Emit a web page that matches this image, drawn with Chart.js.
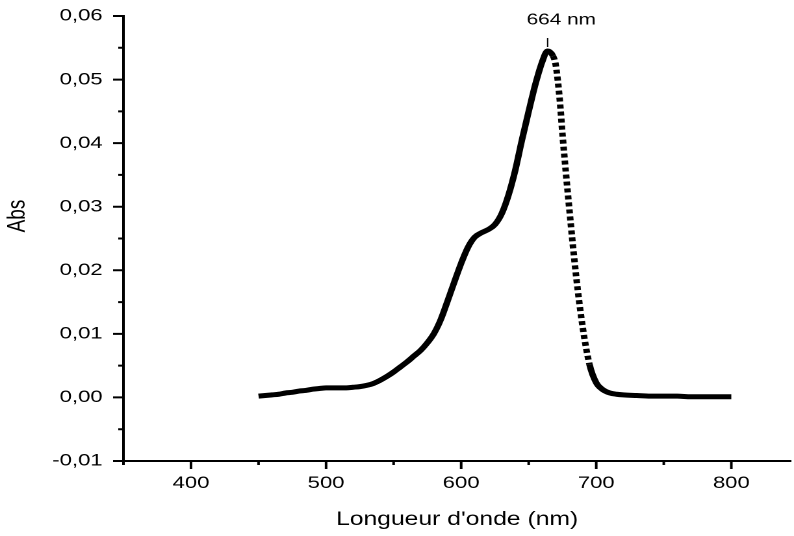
<!DOCTYPE html>
<html>
<head>
<meta charset="utf-8">
<script src="https://cdn.jsdelivr.net/npm/chart.js@4.4.1/dist/chart.umd.min.js"></script>
<style>
  html, body { margin: 0; padding: 0; background: #fff; overflow: hidden; }
  #wrap { position: absolute; left: 0; top: 0; width: 611px; height: 536px;
          transform: scaleX(1.2995); transform-origin: 0 0; }
</style>
</head>
<body>
<div id="wrap"><canvas id="c"></canvas></div>
<script>
// Data
const wavelengths = [450,455,460,465,470,475,480,485,490,495,500,505,510,515,520,525,530,535,540,545,550,555,560,565,570,575,580,585,590,595,600,605,610,615,620,625,630,635,640,645,650,655,660,664,668,670,673,675,680,685,690,695,700,705,710,715,720,730,740,750,760,770,780,790,800];
const absorbance  = [0.0002,0.0003,0.0004,0.0005,0.0007,0.0008,0.0010,0.0011,0.0013,0.0014,0.0015,0.0015,0.0015,0.0015,0.0016,0.0017,0.0019,0.0022,0.0027,0.0033,0.0040,0.0048,0.0056,0.0065,0.0074,0.0086,0.0101,0.0123,0.0152,0.0182,0.0211,0.0236,0.0252,0.0259,0.0264,0.0272,0.0289,0.0318,0.0357,0.0405,0.0450,0.0493,0.0528,0.0545,0.0537,0.0523,0.0468,0.0414,0.0298,0.0193,0.0110,0.0052,0.0023,0.0012,0.0007,0.0005,0.0004,0.0003,0.0002,0.0002,0.0002,0.0001,0.0001,0.0001,0.0001];
const xMajorTicks = [400,500,600,700,800];
const xMinorTicks = [350,450,550,650,750];
const yMajorTicks = [-0.01,0.00,0.01,0.02,0.03,0.04,0.05,0.06];
const yMinorTicks = [-0.005,0.005,0.015,0.025,0.035,0.045,0.055];
const peakWavelength = 664;
const peakLabel = '664 nm';
const xTitle = "Longueur d'onde (nm)";
const yTitle = 'Abs';

const FONT = "'Liberation Sans', Arial, sans-serif";
const points = wavelengths.map((w, i) => ({ x: w, y: absorbance[i] }));

const tickPlugin = {
  id: 'ticksAndText',
  afterDraw(chart) {
    const ctx = chart.ctx;
    const xs = chart.scales.x, ys = chart.scales.y;
    const area = chart.chartArea;
    ctx.save();
    ctx.strokeStyle = '#000';
    ctx.lineWidth = 2;
    ctx.beginPath();
    xMajorTicks.forEach(v => { const p = xs.getPixelForValue(v); ctx.moveTo(p, area.bottom); ctx.lineTo(p, area.bottom + 8); });
    xMinorTicks.forEach(v => { const p = xs.getPixelForValue(v); ctx.moveTo(p, area.bottom); ctx.lineTo(p, area.bottom + 4); });
    yMajorTicks.forEach(v => { const p = ys.getPixelForValue(v); ctx.moveTo(area.left, p); ctx.lineTo(area.left - 8, p); });
    yMinorTicks.forEach(v => { const p = ys.getPixelForValue(v); ctx.moveTo(area.left, p); ctx.lineTo(area.left - 4, p); });
    ctx.stroke();
    // peak marker
    const px = xs.getPixelForValue(peakWavelength);
    ctx.lineWidth = 1;
    ctx.beginPath();
    ctx.moveTo(px, 38); ctx.lineTo(px, 47);
    ctx.stroke();
    ctx.fillStyle = '#000';
    ctx.font = '16px ' + FONT;
    ctx.textAlign = 'center';
    ctx.textBaseline = 'middle';
    ctx.fillText(peakLabel, px + 10.5, 20);
    // y title
    ctx.translate(14, 216);
    ctx.rotate(-Math.PI / 2);
    ctx.font = '19px ' + FONT;
    ctx.fillText(yTitle, 0, 0);
    ctx.restore();
  }
};

new Chart(document.getElementById('c'), {
  type: 'scatter',
  data: {
    datasets: [{
      data: points,
      showLine: true,
      borderColor: '#000',
      backgroundColor: '#000',
      borderWidth: 5,
      pointRadius: 0,
      cubicInterpolationMode: 'monotone',
      segment: {
        borderDash: ctx => (ctx.p0.parsed.x >= 667 && ctx.p1.parsed.x <= 697) ? [4, 3] : undefined
      }
    }]
  },
  options: {
    responsive: true,
    maintainAspectRatio: false,
    devicePixelRatio: 2,
    animation: false,
    layout: { padding: { top: 16, right: 0, left: 0, bottom: 0 } },
    plugins: { legend: { display: false }, tooltip: { enabled: false } },
    scales: {
      x: {
        type: 'linear',
        min: 350, max: 844,
        afterBuildTicks: axis => { axis.ticks = xMajorTicks.map(v => ({ value: v })); },
        afterFit: axis => { axis.height = 75; axis.paddingLeft = 0; axis.paddingRight = 0; },
        grid: { display: false, drawTicks: false },
        border: { display: true, color: '#000', width: 2 },
        ticks: { color: '#000', font: { family: FONT, size: 17 }, padding: 12, maxRotation: 0, autoSkip: false },
        title: { display: true, text: xTitle, color: '#000', font: { family: FONT, size: 19 }, padding: { top: 0, bottom: 5 } }
      },
      y: {
        type: 'linear',
        min: -0.01, max: 0.06,
        afterBuildTicks: axis => { axis.ticks = yMajorTicks.map(v => ({ value: v })); },
        afterFit: axis => { axis.width = 95; axis.paddingTop = 0; axis.paddingBottom = 0; },
        grid: { display: false, drawTicks: false },
        border: { display: true, color: '#000', width: 2 },
        ticks: { color: '#000', font: { family: FONT, size: 17 }, padding: 16, autoSkip: false,
                 callback: v => v.toFixed(2).replace('.', ',') }
      }
    }
  },
  plugins: [tickPlugin]
});
</script>
</body>
</html>
